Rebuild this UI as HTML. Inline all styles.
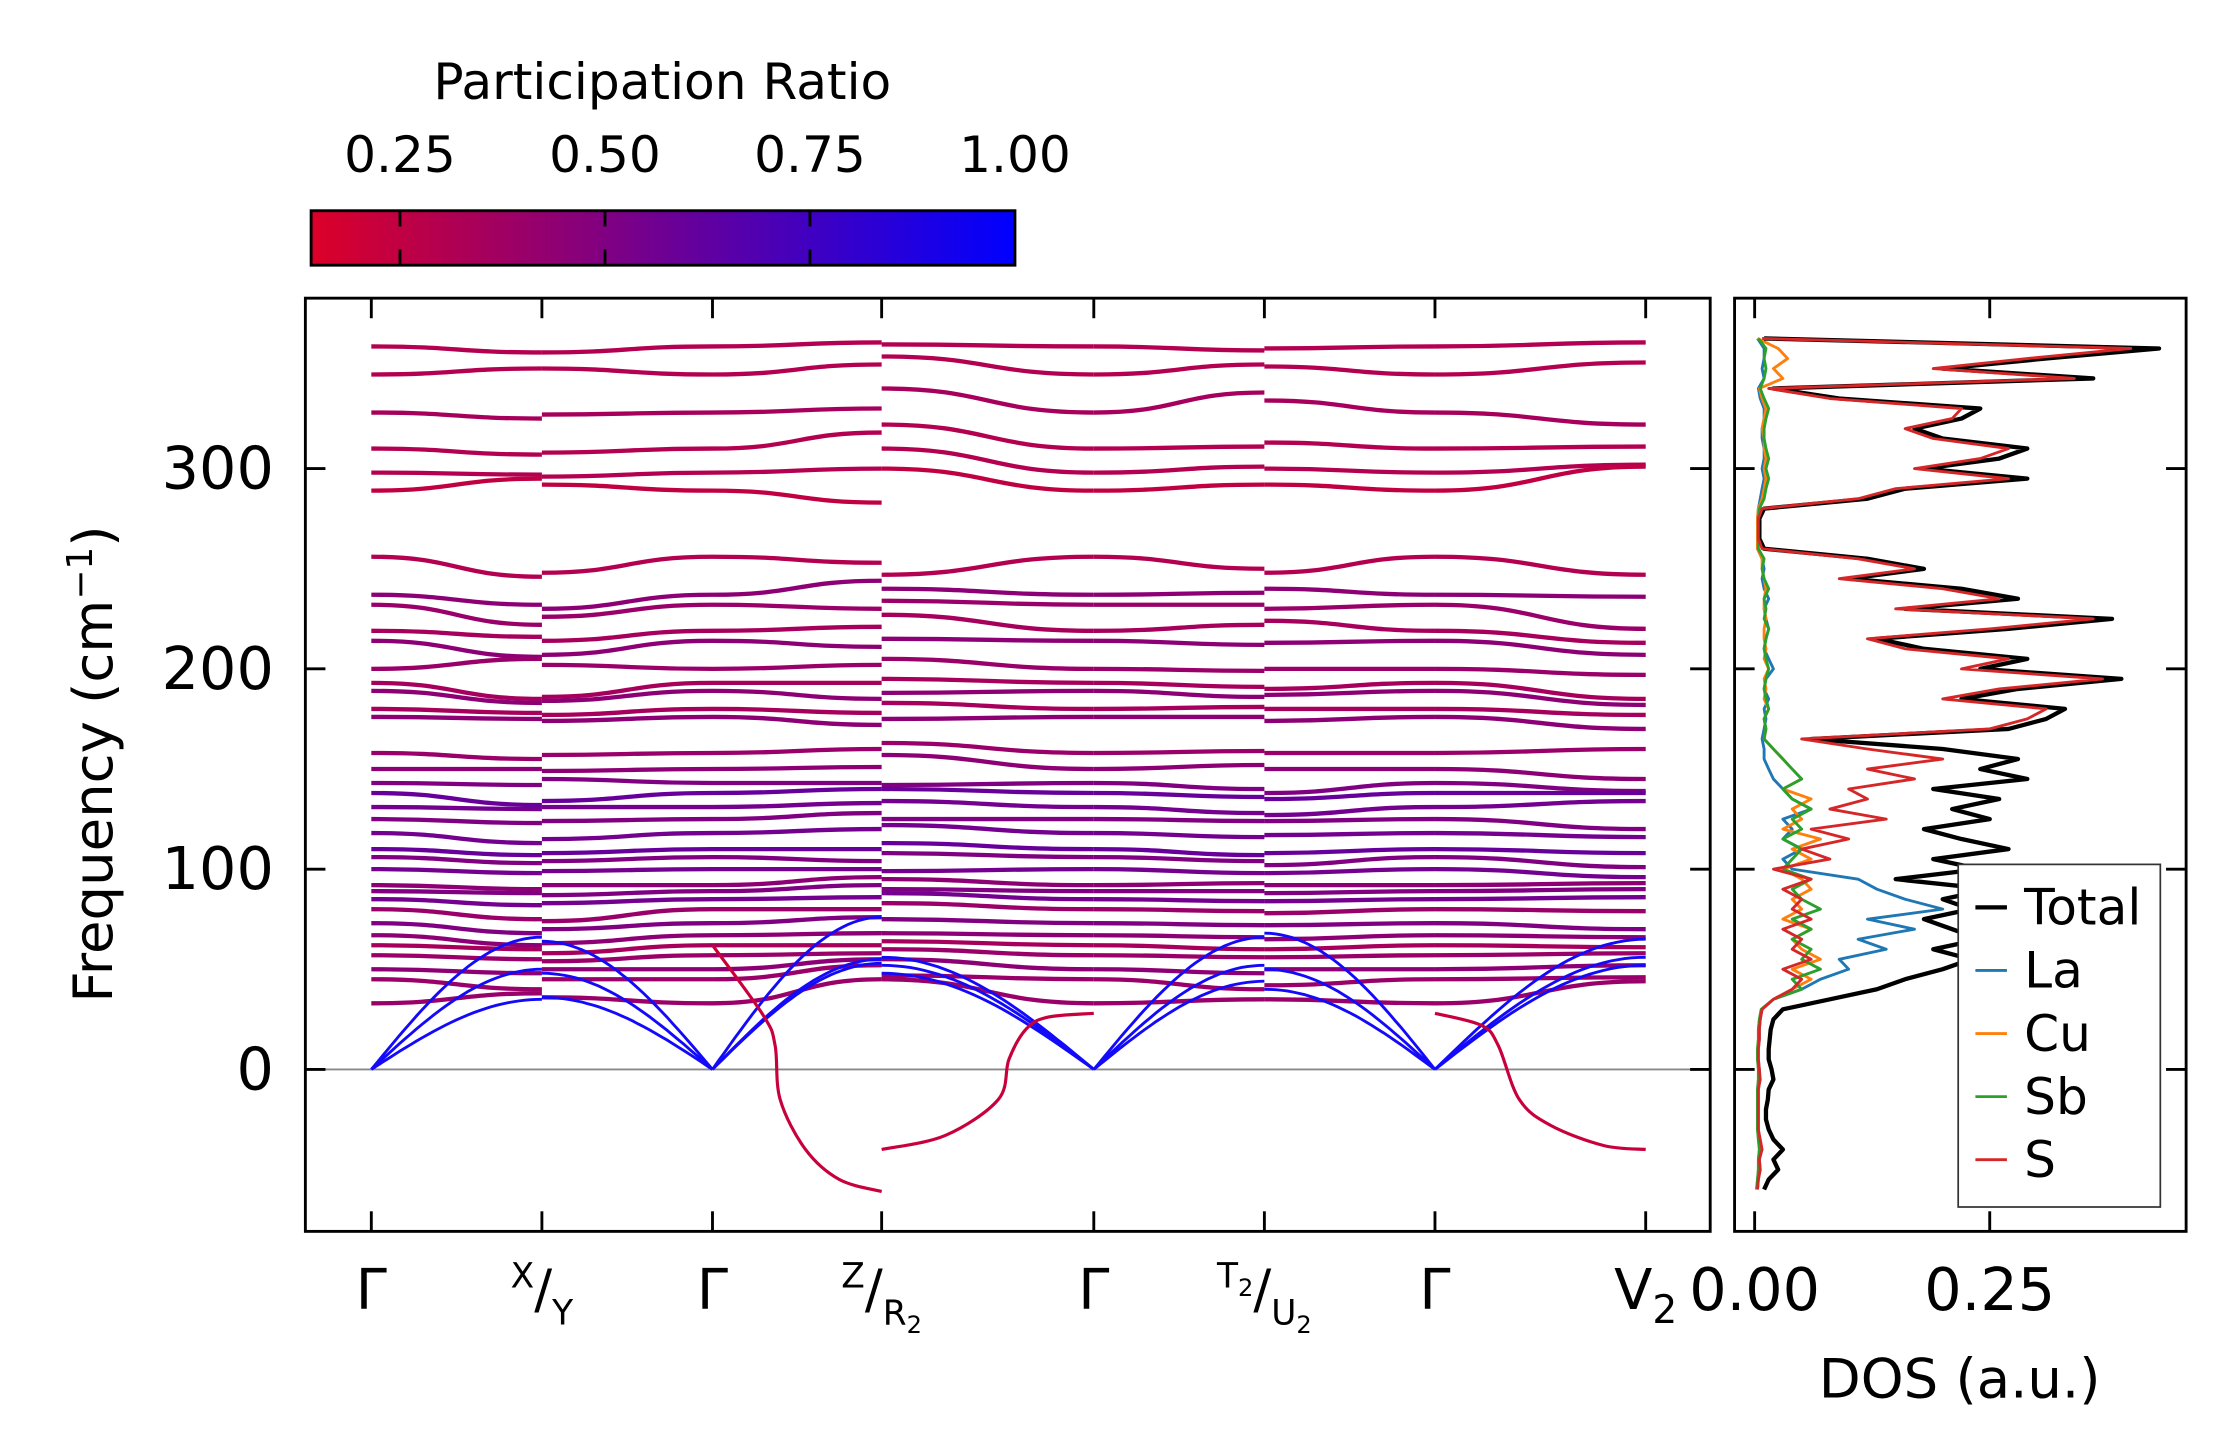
<!DOCTYPE html>
<html><head><meta charset="utf-8"><style>
html,body{margin:0;padding:0;background:#fff;}
svg{display:block;font-family:"DejaVu Sans","Liberation Sans",sans-serif;}
</style></head><body>
<svg id="fig" width="2222" height="1455" viewBox="0 0 1550 1015" xmlns="http://www.w3.org/2000/svg">
<defs>
<linearGradient id="cmap" x1="0" x2="1" y1="0" y2="0">
<stop offset="0" stop-color="rgb(220,0,40)"/><stop offset="1" stop-color="rgb(0,0,255)"/>
</linearGradient>
<clipPath id="mainclip"><rect x="213" y="208" width="980" height="651"/></clipPath>
<clipPath id="dosclip"><rect x="1210" y="208" width="315" height="651"/></clipPath>
</defs>
<g>
<text x="462" y="69" font-size="35" text-anchor="middle">Participation Ratio</text>
<rect x="217" y="147" width="491" height="38" fill="url(#cmap)" stroke="#000" stroke-width="2"/>
<g id="cbticks"></g>
</g>
<g id="main">
<line x1="213" x2="1193" y1="746" y2="746" stroke="#888" stroke-width="1.3"/>
<g id="bands" clip-path="url(#mainclip)"></g>
<rect x="213" y="208" width="980" height="651" fill="none" stroke="#000" stroke-width="2"/>
<g id="mainticks"></g>
<text transform="translate(78,533) rotate(-90)" font-size="38" text-anchor="middle">Frequency (cm<tspan dy="-14" font-size="25">−1</tspan><tspan dy="14">)</tspan></text>
</g>
<g id="dos">
<g id="doslines" clip-path="url(#dosclip)"></g>
<rect x="1210" y="208" width="315" height="651" fill="none" stroke="#000" stroke-width="2"/>
<g id="dosticks"></g>
<text x="1367" y="975" font-size="38" text-anchor="middle">DOS (a.u.)</text>
<g>
<rect x="1366" y="603" width="141" height="239" fill="#fff" stroke="#333" stroke-width="1.2"/>
<g id="legend"></g>
</g>
</g>
</svg>
<script>
const NS="http://www.w3.org/2000/svg";
// ---------- data ----------
const cbTicks=[0.25,0.5,0.75,1.0];
const cbTickLabels=["0.25","0.50","0.75","1.00"];
const yTicks=[0,100,200,300];
const yTickLabels=["0","100","200","300"];
const kLabels=["Γ","X/Y","Γ","Z/R2","Γ","T2/U2","Γ","V2"];
const kPos=[0,1,2,3,4,5,6,7];
const gammaFreq=[361,347,328,310,298,289,256,237,232,219,214,200,193,189,180,176,158,150,143,138,131,125,118,110,106,100,92,89,85,80,73,67,62,57,50,45,33];
const xFreq=[358,350,325,307,297,295,246,232,222,216,206,205,185,183,178,175,155,150,142,132,130,123,113,107,103,98,90,88,82,75,68,62,60,55,48,40,38];
const yFreq=[358,350,327,308,296,292,248,230,226,214,207,202,186,184,177,174,157,149,145,134,131,124,115,108,104,99,92,87,83,74,70,63,58,54,50,45,36];
const zFreq=[363,352,330,318,300,283,253,244,230,221,211,202,193,185,178,172,160,151,143,140,133,128,120,110,104,100,96,92,86,80,76,68,62,58,55,52,45];
const r2Freq=[362,356,340,322,310,300,247,240,234,227,215,205,195,188,183,175,163,157,142,140,134,125,122,113,108,99,95,90,88,83,75,68,64,60,55,47,45];
const t2Freq=[359,352,338,311,301,292,250,238,232,222,212,199,191,186,181,176,159,152,140,136,128,124,116,107,104,98,93,89,84,79,72,66,60,56,48,40,35];
const u2Freq=[360,351,334,313,300,292,248,240,230,224,213,200,190,187,180,174,158,150,138,135,127,124,117,108,102,98,92,88,84,78,72,65,60,56,50,42,35];
const v2Freq=[363,353,322,311,302,301,247,236,220,213,207,197,185,182,177,170,160,145,139,138,134,120,116,108,101,96,93,90,86,79,70,66,61,58,52,46,44];
const bandPR=[0.3,0.3,0.35,0.3,0.3,0.25,0.3,0.45,0.4,0.35,0.45,0.4,0.35,0.45,0.35,0.45,0.4,0.45,0.5,0.6,0.55,0.5,0.55,0.6,0.5,0.55,0.45,0.5,0.55,0.4,0.5,0.45,0.35,0.4,0.45,0.4,0.4];
const acX=[35,50,66], acY=[36,48,64], acZ=[53,55,76], acR2=[48,52,56], acT2=[44,52,66], acU2=[40,50,68], acV2=[52,56,65];
const imagSeg2=[[0,62],[0.3,27],[0.37,12],[0.4,-15],[0.55,-40],[0.75,-55],[1,-61]];
const imagSeg3=[[0,-40],[0.3,-33],[0.55,-15],[0.6,5],[0.68,20],[0.78,26],[1,28]];
const imagSeg6=[[0,28],[0.22,22],[0.3,12],[0.4,-15],[0.55,-28],[0.8,-38],[1,-40]];
// DOS
const dosFreq=[-60,-55,-50,-45,-40,-35,-30,-25,-20,-15,-10,-5,0,5,10,15,20,25,30,35,40,45,50,55,60,65,70,75,80,85,90,95,100,105,110,115,120,125,130,135,140,145,150,155,160,165,170,175,180,185,190,195,200,205,210,215,220,225,230,235,240,245,250,255,260,265,270,275,280,285,290,295,300,305,310,315,320,325,330,335,340,345,350,355,360,365];
const dosTotal=[0.01,0.015,0.025,0.02,0.03,0.02,0.015,0.012,0.012,0.014,0.015,0.02,0.018,0.015,0.015,0.016,0.017,0.02,0.03,0.08,0.13,0.16,0.2,0.23,0.19,0.24,0.21,0.18,0.23,0.2,0.25,0.15,0.24,0.19,0.27,0.22,0.18,0.25,0.21,0.26,0.19,0.29,0.24,0.28,0.2,0.06,0.27,0.31,0.33,0.22,0.28,0.39,0.24,0.29,0.18,0.13,0.27,0.38,0.16,0.28,0.22,0.1,0.18,0.12,0.01,0.005,0.005,0.005,0.01,0.12,0.16,0.29,0.18,0.26,0.29,0.2,0.17,0.22,0.24,0.09,0.02,0.36,0.2,0.31,0.43,0.01];
const dosLa=[0.003,0.004,0.006,0.005,0.007,0.005,0.004,0.004,0.004,0.004,0.004,0.005,0.005,0.004,0.004,0.005,0.005,0.006,0.008,0.02,0.05,0.07,0.1,0.09,0.14,0.11,0.17,0.12,0.2,0.16,0.13,0.11,0.04,0.03,0.05,0.03,0.04,0.03,0.06,0.04,0.03,0.02,0.015,0.01,0.01,0.008,0.01,0.012,0.01,0.015,0.01,0.012,0.02,0.015,0.01,0.012,0.015,0.012,0.01,0.015,0.01,0.008,0.01,0.008,0.003,0.003,0.003,0.003,0.004,0.006,0.008,0.01,0.008,0.01,0.01,0.008,0.008,0.01,0.01,0.006,0.004,0.01,0.008,0.01,0.01,0.003];
const dosCu=[0.002,0.003,0.004,0.004,0.005,0.004,0.003,0.003,0.003,0.003,0.003,0.004,0.004,0.003,0.003,0.004,0.004,0.005,0.007,0.02,0.04,0.06,0.04,0.07,0.05,0.04,0.06,0.03,0.05,0.04,0.06,0.05,0.03,0.06,0.04,0.07,0.03,0.05,0.04,0.06,0.03,0.05,0.04,0.03,0.02,0.01,0.012,0.01,0.015,0.01,0.012,0.01,0.015,0.01,0.012,0.01,0.01,0.012,0.01,0.01,0.012,0.01,0.008,0.008,0.003,0.003,0.003,0.003,0.004,0.008,0.01,0.012,0.01,0.012,0.01,0.01,0.008,0.01,0.012,0.008,0.005,0.03,0.02,0.035,0.025,0.003];
const dosSb=[0.002,0.003,0.004,0.004,0.005,0.004,0.003,0.003,0.003,0.003,0.003,0.004,0.004,0.003,0.003,0.004,0.004,0.005,0.007,0.02,0.05,0.04,0.07,0.05,0.06,0.04,0.06,0.04,0.07,0.05,0.04,0.06,0.03,0.04,0.05,0.03,0.05,0.04,0.06,0.04,0.03,0.05,0.04,0.03,0.02,0.01,0.012,0.01,0.015,0.012,0.01,0.012,0.015,0.012,0.01,0.012,0.015,0.01,0.012,0.01,0.015,0.01,0.008,0.01,0.004,0.004,0.004,0.004,0.005,0.01,0.012,0.015,0.012,0.015,0.012,0.01,0.01,0.012,0.015,0.01,0.006,0.01,0.012,0.01,0.012,0.004];
const dosS=[0.003,0.004,0.006,0.005,0.008,0.006,0.004,0.004,0.004,0.004,0.004,0.006,0.005,0.004,0.004,0.005,0.005,0.006,0.008,0.02,0.04,0.05,0.03,0.06,0.04,0.05,0.03,0.06,0.04,0.05,0.03,0.06,0.02,0.08,0.05,0.1,0.06,0.14,0.08,0.12,0.1,0.17,0.12,0.2,0.12,0.05,0.25,0.29,0.31,0.2,0.26,0.37,0.22,0.27,0.16,0.12,0.25,0.36,0.15,0.26,0.2,0.09,0.17,0.11,0.008,0.004,0.004,0.004,0.008,0.11,0.15,0.27,0.17,0.24,0.27,0.19,0.16,0.21,0.22,0.08,0.015,0.34,0.19,0.29,0.4,0.008];
// ---------- scales ----------
const fy=f=>746-f*1.397;
const kPixels=[259,378,497,615,763,882,1001,1148];
const kx=p=>{const i=Math.min(Math.floor(p),6);return kPixels[i]+(kPixels[i+1]-kPixels[i])*(p-i);};
const segX=[[259,378],[378,497],[497,615],[615,763],[763,882],[882,1001],[1001,1148]];
const cbx=v=>217+(v-0.1416)/(1-0.1416)*491;
const dx=d=>1224+d*656;
function prColor(v){const t=Math.max(0,Math.min(1,(v-0.1416)/(1-0.1416)));return `rgb(${Math.round(220*(1-t))},0,${Math.round(40+215*t)})`;}
function mk(tag,attrs,parent){const e=document.createElementNS(NS,tag);for(const k in attrs)e.setAttribute(k,attrs[k]);parent.appendChild(e);return e;}
// colorbar ticks
const cbg=document.getElementById('cbticks');
cbTicks.forEach((v,i)=>{
  const x=cbx(v);
  if(v<1){const t1=mk('line',{x1:x,x2:x,y1:147,y2:158,stroke:'#000','stroke-width':2},cbg);
  
  
  const t2=mk('line',{x1:x,x2:x,y1:174,y2:185,stroke:'#000','stroke-width':2},cbg);
  
  }
  const tx=mk('text',{x:x,y:120,'font-size':35,'text-anchor':'middle'},cbg);tx.textContent=cbTickLabels[i];
  
  
});
// bands
const bg=document.getElementById('bands');
const segEnds=[[gammaFreq,xFreq],[yFreq,gammaFreq],[gammaFreq,zFreq],[r2Freq,gammaFreq],[gammaFreq,t2Freq],[u2Freq,gammaFreq],[gammaFreq,v2Freq]];
segEnds.forEach((pair,s)=>{
  const [x0,x1]=segX[s];const h=(x1-x0)/2;
  pair[0].forEach((f0,b)=>{
    const f1=pair[1][b];const y0=fy(f0),y1=fy(f1);
    const p=mk('path',{d:`M${x0},${y0} C${x0+h},${y0} ${x1-h},${y1} ${x1},${y1}`,fill:'none',stroke:prColor(bandPR[b]),'stroke-width':3},bg);
    
    
  });
});
// acoustic
const acSegs=[[acX,0],[acY,1],[acZ,0],[acR2,1],[acT2,0],[acU2,1],[acV2,0]];
acSegs.forEach((a,s)=>{
  const [vals,gEnd]=a;const [x0,x1]=segX[s];
  vals.forEach(v=>{
    let d='';
    for(let i=0;i<=30;i++){const t=i/30;const u=gEnd?1-t:t;const f=v*Math.sin(Math.PI/2*u);d+=(i?'L':'M')+(x0+(x1-x0)*t).toFixed(1)+','+fy(f).toFixed(1);}
    const p=mk('path',{d:d,fill:'none',stroke:'rgb(20,10,250)','stroke-width':2},bg);
    
    
  });
});
// imaginary modes
[[imagSeg2,2],[imagSeg3,3],[imagSeg6,6]].forEach(([pts,s])=>{
  const [x0,x1]=segX[s];
  const P=pts.map(q=>[x0+(x1-x0)*q[0],fy(q[1])]);
  let d=`M${P[0][0]},${P[0][1]}`;
  for(let i=0;i<P.length-1;i++){const p0=P[Math.max(i-1,0)],p1=P[i],p2=P[i+1],p3=P[Math.min(i+2,P.length-1)];
    d+=` C${p1[0]+(p2[0]-p0[0])/6},${p1[1]+(p2[1]-p0[1])/6} ${p2[0]-(p3[0]-p1[0])/6},${p2[1]-(p3[1]-p1[1])/6} ${p2[0]},${p2[1]}`;}
  const p=mk('path',{d:d,fill:'none',stroke:'rgb(200,0,60)','stroke-width':2.2},bg);
  
  
});
// main ticks
const mt=document.getElementById('mainticks');
yTicks.forEach((v,i)=>{
  const y=fy(v);
  const a=mk('line',{x1:213,x2:227,y1:y,y2:y,stroke:'#000','stroke-width':2},mt);
  
  
  const b=mk('line',{x1:1179,x2:1193,y1:y,y2:y,stroke:'#000','stroke-width':2},mt);
  
  
  const t=mk('text',{x:191,y:y+14,'font-size':41,'text-anchor':'end'},mt);t.textContent=yTickLabels[i];
  
  
});
function addSub(parent,str,size,dyBase){
  const m=str.match(/^([A-ZΓ]+)(\d?)$/);
  const s1=mk('tspan',{'font-size':size,dy:dyBase},parent);s1.textContent=m[1];
  let back=0;
  if(m[2]){const s2=mk('tspan',{'font-size':size*0.7,dy:size*0.25},parent);s2.textContent=m[2];back=size*0.25;}
  return back;
}
kPos.forEach((p,i)=>{
  const x=kx(p);
  const a=mk('line',{x1:x,x2:x,y1:845,y2:859,stroke:'#000','stroke-width':2},mt);
  
  
  const b=mk('line',{x1:x,x2:x,y1:208,y2:222,stroke:'#000','stroke-width':2},mt);
  
  
  const lab=kLabels[i];
  let t;
  if(lab.includes('/')){
    const [top,bot]=lab.split('/');
    t=mk('text',{x:x,y:912,'font-size':34,'text-anchor':'middle'},mt);
    const back=addSub(t,top,24,-14);
    const s2=mk('tspan',{'font-size':37,dy:14-back},t);s2.textContent='/';
    addSub(t,bot,24,12);
  } else {
    t=mk('text',{x:x,y:913,'font-size':39,'text-anchor':'middle'},mt);
    addSub(t,lab,39,0);
  }
  
  
});
// DOS
const dl=document.getElementById('doslines');
const dosSeries=[[dosLa,'#1f77b4'],[dosCu,'#ff7f0e'],[dosSb,'#2ca02c'],[dosTotal,'#000'],[dosS,'#d62728']];
const dosNames=['dos-la','dos-cu','dos-sb','dos-total','dos-s'];
dosSeries.forEach(([vals,c],k)=>{
  const d=vals.map((v,i)=>(i?'L':'M')+dx(v).toFixed(1)+','+fy(dosFreq[i]).toFixed(1)).join('');
  const p=mk('path',{d:d,fill:'none',stroke:c,'stroke-width':k===3?3:2,'stroke-linejoin':'round'},dl);
  
  
});
const dt=document.getElementById('dosticks');
yTicks.forEach(v=>{
  const y=fy(v);
  const a=mk('line',{x1:1210,x2:1224,y1:y,y2:y,stroke:'#000','stroke-width':2},dt);
  
  
  const b=mk('line',{x1:1511,x2:1525,y1:y,y2:y,stroke:'#000','stroke-width':2},dt);
  
  
});
const dosXTicks=[0,0.25];const dosXLabels=["0.00","0.25"];
dosXTicks.forEach((v,i)=>{
  const x=dx(v);
  const a=mk('line',{x1:x,x2:x,y1:845,y2:859,stroke:'#000','stroke-width':2},dt);
  
  
  const b=mk('line',{x1:x,x2:x,y1:208,y2:222,stroke:'#000','stroke-width':2},dt);
  
  
  const t=mk('text',{x:x,y:914,'font-size':41,'text-anchor':'middle'},dt);t.textContent=dosXLabels[i];
  
  
});
const lg=document.getElementById('legend');
const legNames=['Total','La','Cu','Sb','S'];const legColors=['#000','#1f77b4','#ff7f0e','#2ca02c','#d62728'];
legNames.forEach((n,i)=>{
  const y=633+i*44;
  const l=mk('line',{x1:1378,x2:1400,y1:y,y2:y,stroke:legColors[i],'stroke-width':i?2:3},lg);
  
  
  const t=mk('text',{x:1412,y:y+12,'font-size':35},lg);t.textContent=n;
  
  
});
</script>
</body></html>
